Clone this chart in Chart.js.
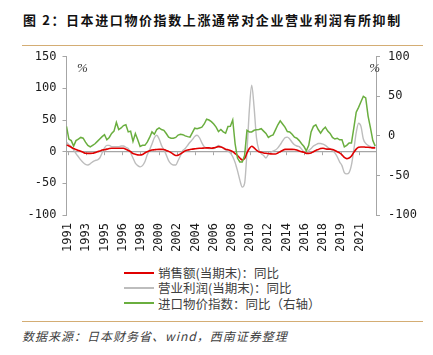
<!DOCTYPE html>
<html><head><meta charset="utf-8">
<script src="https://cdn.jsdelivr.net/npm/chart.js@4.4.0/dist/chart.umd.min.js"></script>
<style>
html,body{margin:0;padding:0;background:#fff;}
#wrap{position:relative;width:433px;height:355px;overflow:hidden;font-family:"Noto Sans CJK SC","Noto Sans",sans-serif;}
#title{position:absolute;left:23px;top:11px;font-size:13px;font-weight:bold;letter-spacing:1.6px;color:#111;white-space:nowrap;line-height:18px;}
.rule{position:absolute;left:22px;width:401px;height:1.5px;background:#d4ad74;}
#chart{position:absolute;left:0;top:0;}
#legend{position:absolute;left:124px;top:265px;font-size:12.5px;color:#404040;}
.row{display:flex;align-items:center;height:15.3px;white-space:nowrap;}
.sw{display:inline-block;width:30px;height:2px;margin-right:4px;}
#source{position:absolute;left:22px;top:328px;font-size:12px;font-style:italic;color:#404040;letter-spacing:1px;white-space:nowrap;line-height:16px;}
</style></head>
<body>
<div id="wrap">
  <div id="title">图 2：日本进口物价指数上涨通常对企业营业利润有所抑制</div>
  <div class="rule" style="top:44.5px"></div>
  <canvas id="chart" width="433" height="260" style="width:433px;height:260px"></canvas>
  <div id="legend"></div>
  <div class="rule" style="top:320.5px"></div>
  <div id="source">数据来源：日本财务省、wind，西南证券整理</div>
</div>
<script>
// quarterly observations, first quarter of 1991 onward
const startYear = 1991;
const sales = [
  10.5, 9, 7, 5,        3.5, 2, 0.5, -1,      -2.5, -2.6, -2.6, -2.5,  -1.5, 0, 1, 2.5,
  3, 4, 5, 5.3,         5.3, 5.3, 5.3, 5.3,   5.3, 4, 2, 0,            -3, -4, -5, -5.3,
  -4.5, -2, 0, 1.5,     2.6, 3, 3.5, 3.7,     3.7, 3.5, 2, 0.5,        -1.5, -4, -6, -5.5,
  -3.5, -1, 1.5, 2.5,   3.5, 4, 4.5, 5,       5.3, 5.5, 5.8, 6,        6, 5.5, 6, 7,
  8, 7.5, 6, 4,         3, 2, 0, -3,          -6, -10, -13, -11,       -2, 5, 8.5, 6,
  2.5, 0, -1, -2,       -2.6, -3, -3.5, -3.7, -3.7, -2, 0, 2,          3.7, 3.7, 3.7, 3.7,
  3.5, 2.5, 1, 0,       -1, -2.6, -2.6, -2,   0, 2, 3.5, 5,            5.3, 4.5, 4, 4,
  3.5, 2, 0, -2,        -5, -9, -11, -10,     -7, -1, 4, 7,            7.5, 7.5, 7, 7,
  6.5, 6, 6
];
const profit = [
  15, 11, 8, 3,         -3, -8, -13, -17,     -20, -21, -19, -16,      -14, -13, -10, -2,
  6, 10, 10, 8,         8, 8, 8, 9,           9, 7, 5, -2,             -10, -18, -22, -24,
  -22, -16, -5, 3,      12, 22, 26, 20,       10, 3, -5, -14,          -19, -21, -21, -14,
  -6, 2, 5, 10,         15, 19, 24, 26,       22, 14, 8, 6,            5, 5, 5, 7,
  10, 8, 5, 3,          1, -2, -8, -17,       -30, -45, -56, -50,      0, 66, 105, 70,
  22, 3, -3, -6,        -10, -4, -1, 1,       2.6, 6, 11, 17,          22, 23, 20, 15,
  11, 9, 8, 4,          -1, -2, 2, 5,         9, 11, 13, 13,           12, 10, 7, 4,
  2, -2, -8, -16,       -22, -33, -35, -33,   -21, 3, 30, 45,          40, 20, 13, 10,
  8, 7, 7
];
const importPrice = [
  12, -4, -6, -13,      -6, -4, -2, -3,       -8, -12, -14, -12,       -10, -7, -4, -1,
  1.5, -5, -2, 3,       6, 17, 8, 10,         13, 14, 5, 6,            -7, 3, -5, -13.5,
  -12, -12, -8, -2,     5, 2, 8, 10,          8, 7, 3, -1.7,           -3, -3, -2, 1,
  2, 1.5, 0, -1,        -1.7, 4, 9.7, 9,      10, 11, 15, 21,          20, 18, 15, 11,
  5.4, 8, 5, 3.4,       11.8, 12, 20, -10,    -28, -33, -33, -25,      7, 5, 5, 7,
  7.6, 8, 9, 6,         3, -2, 0, 1.3,        7.6, 14, 19, 15,         11, 5.4, 5, 2,
  -1.7, -3, -6, -10,    -13.5, -19, -12, 5,   12, 14, 8, 3.4,          8, 11, 6, 3,
  -2, -4, -3, -5,       -5, -14, -12, -9,     -9, 10, 30, 36,          43, 50, 48, 25,
  10, -6, -13
];
const seriesNames = ['销售额(当期末)：同比', '营业利润(当期末)：同比', '进口物价指数：同比（右轴）'];
const tickMonths = ['1991-03','1993-02','1995-01','1996-12','1998-11','2000-10','2002-09','2004-08',
  '2006-07','2008-06','2010-05','2012-04','2014-03','2016-02','2018-01','2019-12','2021-11'];
const axisStart = '1991-01', axisEnd = '2023-08';
const leftTicks = [-100, -50, 0, 50, 100, 150];
const rightTicks = [-100, -50, 0, 50, 100];

const toYear = s => +s.slice(0, 4) + (+s.slice(5, 7) - 1) / 12;
const qx = i => startYear + i * 0.25;
const pts = arr => arr.map((v, i) => ({x: qx(i), y: v}));

const axisGray = '#a6a6a6';
const tickFont = {family: 'DejaVu Sans Mono', size: 12};
const tickColor = '#1a1a1a';
const xTicks = s => { s.ticks = tickMonths.map(m => ({value: toYear(m)})); };

const datasets = [
  {label: seriesNames[0], data: pts(sales), yAxisID: 'y', borderColor: '#e00000', borderWidth: 1.6,
   pointRadius: 0, cubicInterpolationMode: 'monotone', order: 1},
  {label: seriesNames[1], data: pts(profit), yAxisID: 'y', borderColor: '#bdbdbd', borderWidth: 1.4,
   pointRadius: 0, cubicInterpolationMode: 'monotone', order: 2},
  {label: seriesNames[2], data: pts(importPrice), yAxisID: 'y1', borderColor: '#6aae3f', borderWidth: 1.5,
   pointRadius: 0, tension: 0, order: 0}
];

const pctPlugin = {
  id: 'pct',
  afterDraw(c) {
    const {ctx, chartArea: a} = c;
    ctx.save();
    ctx.font = 'italic 13px "Liberation Serif"';
    ctx.fillStyle = '#333';
    ctx.textBaseline = 'middle';
    ctx.textAlign = 'left';
    ctx.fillText('%', a.left + 10.5, a.top + 12);
    ctx.textAlign = 'right';
    ctx.fillText('%', a.right + 4, a.top + 12);
    ctx.restore();
  }
};

const chart = new Chart(document.getElementById('chart'), {
  type: 'line',
  data: {datasets},
  options: {
    responsive: false,
    animation: false,
    devicePixelRatio: 1,
    layout: {padding: {top: 56.7, bottom: 0, left: 0, right: 0}},
    plugins: {legend: {display: false}, tooltip: {enabled: false}},
    scales: {
      x: {
        type: 'linear', position: 'bottom', min: toYear(axisStart), max: toYear(axisEnd),
        afterFit: s => { s.height = 45; },
        afterBuildTicks: xTicks,
        grid: {display: false, drawTicks: false},
        border: {display: false},
        ticks: {autoSkip: false, minRotation: 90, maxRotation: 90, padding: 8, font: tickFont, color: tickColor,
          callback: (v, i) => tickMonths[i].slice(0, 4)}
      },
      x2: {
        type: 'linear', axis: 'x', position: {y: 0}, min: toYear(axisStart), max: toYear(axisEnd),
        afterBuildTicks: xTicks,
        grid: {drawOnChartArea: false, drawTicks: true, tickLength: 3, color: axisGray, tickColor: axisGray},
        border: {display: true, color: axisGray, width: 1.2},
        ticks: {display: false}
      },
      y: {
        position: 'left', min: -100, max: 150,
        afterFit: s => { s.width = 66.5; },
        afterBuildTicks: s => { s.ticks = leftTicks.map(v => ({value: v})); },
        grid: {drawOnChartArea: false, drawTicks: true, tickLength: 4, color: axisGray, tickColor: axisGray},
        border: {display: true, color: axisGray},
        ticks: {font: tickFont, color: tickColor, padding: 6}
      },
      y1: {
        position: 'right', min: -100, max: 100,
        afterFit: s => { s.width = 57; },
        afterBuildTicks: s => { s.ticks = rightTicks.map(v => ({value: v})); },
        grid: {drawOnChartArea: false, drawTicks: true, tickLength: 4, color: axisGray, tickColor: axisGray},
        border: {display: true, color: axisGray},
        ticks: {font: tickFont, color: tickColor, padding: 8}
      }
    }
  },
  plugins: [pctPlugin]
});

// legend built from the chart's datasets
const lg = document.getElementById('legend');
chart.data.datasets.forEach(ds => {
  const row = document.createElement('div');
  row.className = 'row';
  const sw = document.createElement('span');
  sw.className = 'sw';
  sw.style.background = ds.borderColor;
  const tx = document.createElement('span');
  tx.textContent = ds.label;
  row.appendChild(sw);
  row.appendChild(tx);
  lg.appendChild(row);
});
</script>
</body></html>
